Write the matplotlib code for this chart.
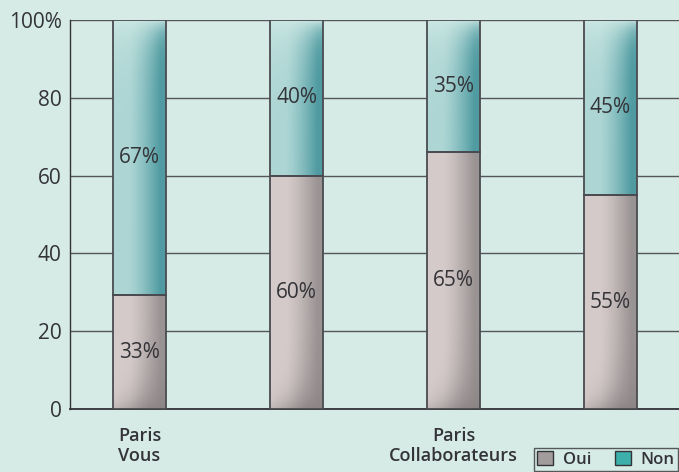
import numpy as np
import matplotlib
matplotlib.use("Agg")
import matplotlib.pyplot as plt
from matplotlib.patches import Patch

categories = ["Paris\nVous", "", "Paris\nCollaborateurs", ""]
oui = [29.2, 60, 66, 55]
non = [70.8, 40, 34, 45]
oui_labels = ["33%", "60%", "65%", "55%"]
non_labels = ["67%", "40%", "35%", "45%"]
yticks = [0, 20, 40, 60, 80, 100]
ytick_labels = ["0", "20", "40", "60", "80", "100%"]

bg = "#d6ebe5"
ink = "#333338"

plt.rcParams['font.family'] = ['Open Sans', 'DejaVu Sans']

fig = plt.figure(figsize=(6.79, 4.72), dpi=100)
fig.patch.set_facecolor(bg)
ax = fig.add_axes([70/679, 1-409/472, 1-70/679, (409-20)/472])
ax.set_facecolor(bg)

x = np.arange(len(oui))
w = 0.337


def rgb(h):
    h = h.lstrip("#")
    return np.array([int(h[i:i+2], 16) / 255 for i in (0, 2, 4)])


def grad_bar(xc, bottom, height, light, dark, top_light):
    rect = ax.bar(xc, height, w, bottom=bottom, color="none", edgecolor="#4a4b50",
                  linewidth=1.3, zorder=4)[0]
    gx = np.linspace(0, 1, 80)
    gy = np.linspace(bottom, bottom + height, 300)
    X, Y = np.meshgrid(gx, gy)
    base = np.clip((X - 0.3) / 0.6, 0, 1) ** 1.3
    lo, hi = rgb(light), rgb(dark)
    img = lo + (hi - lo) * base[..., None]
    if top_light:
        # light sheen at the top, reaching lower on the left
        d = (bottom + height) - Y
        m = (np.exp(-d / (3 + 6 * (1 - X))) * 0.95)[..., None]
        img = img * (1 - m) + rgb("#cde8e4") * m
    else:
        # shadow at the foot, stronger on the right
        d = Y - bottom
        m = (np.exp(-d / (2 + 6 * X)) * np.clip(0.3 + X, 0, 1) * 0.9)[..., None]
        img = img * (1 - m) + rgb("#8a8384") * m
    im = ax.imshow(np.clip(img, 0, 1), origin="lower", aspect="auto",
                   extent=[xc - w/2, xc + w/2, bottom, bottom + height], zorder=3,
                   interpolation="bilinear")
    im.set_clip_path(rect)


for i in range(len(oui)):
    grad_bar(x[i], 0, oui[i], "#d5cbca", "#9b9494", False)
    grad_bar(x[i], oui[i], non[i], "#acd5d4", "#4f9ba1", True)
    ax.text(x[i], oui[i]/2, oui_labels[i], ha="center", va="center", fontsize=15,
            color=ink, zorder=5)
    ax.text(x[i], oui[i] + non[i]/2, non_labels[i], ha="center", va="center",
            fontsize=15, color=ink, zorder=5)

ax.set_xlim(-0.443, 3.436)
ax.set_ylim(0, 100)
ax.set_yticks(yticks)
ax.set_yticklabels(ytick_labels, fontsize=15, color=ink)
ax.set_xticks(x)
ax.set_xticklabels(categories, fontsize=13, color=ink, fontweight="semibold",
                   linespacing=1.15)
ax.tick_params(axis="both", length=0)
ax.tick_params(axis="y", pad=6)
ax.tick_params(axis="x", pad=13)
ax.yaxis.grid(True, color="#55565a", linewidth=1.0, zorder=1)
ax.set_axisbelow(True)
for s in ["top", "right"]:
    ax.spines[s].set_visible(False)
ax.spines["left"].set_color(ink)
ax.spines["bottom"].set_color(ink)
ax.spines["left"].set_linewidth(1.0)
ax.spines["bottom"].set_linewidth(1.3)

handles = [Patch(facecolor="#a39c9c", edgecolor=ink, label="Oui"),
           Patch(facecolor="#3db0ab", edgecolor=ink, label="Non")]
leg = fig.legend(handles=handles, loc="lower right", bbox_to_anchor=(1.0, 0.0),
                 ncol=2, frameon=True, fancybox=False, fontsize=12,
                 handlelength=0.95, handleheight=0.95, handletextpad=0.6,
                 columnspacing=1.4, borderpad=0.2, borderaxespad=0.05)
leg.get_frame().set_edgecolor(ink)
leg.get_frame().set_facecolor(bg)
for t in leg.get_texts():
    t.set_color(ink)
    t.set_fontweight("semibold")

fig.savefig("out.png", dpi=100, facecolor=bg)
